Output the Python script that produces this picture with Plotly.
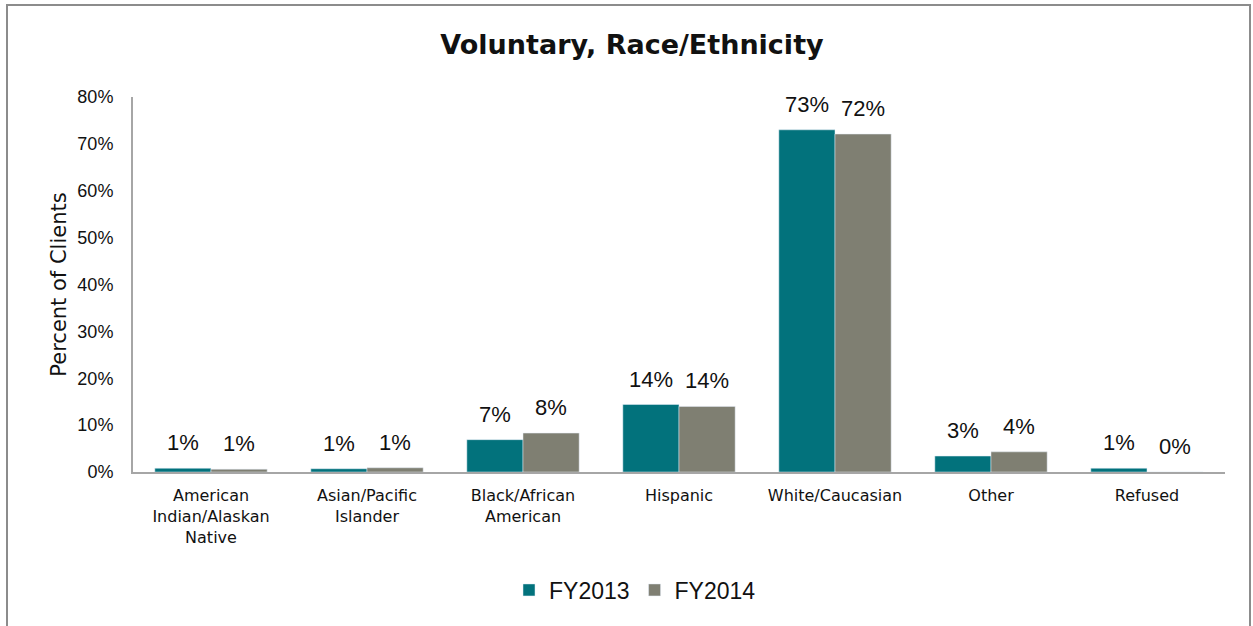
import plotly.graph_objects as go

categories = ["American<br>Indian/Alaskan<br>Native", "Asian/Pacific<br>Islander",
              "Black/African<br>American", "Hispanic", "White/Caucasian", "Other", "Refused"]
fy2013 = [0.008, 0.007, 0.069, 0.144, 0.730, 0.034, 0.008]
fy2014 = [0.006, 0.009, 0.083, 0.140, 0.721, 0.043, 0.000]
y_ticks = [0, 0.1, 0.2, 0.3, 0.4, 0.5, 0.6, 0.7, 0.8]

teal = "#02727C"
grey = "#7F7F72"
font = "DejaVu Sans"
label_font = "Liberation Sans"

W, H = 1253, 626
ml, mr, mt, mb = 133, 28, 97, 154
pw, ph = W - ml - mr, H - mt - mb

fig = go.Figure()
fig.add_bar(name="FY2013", x=categories, y=fy2013, marker_color=teal)
fig.add_bar(name="FY2014", x=categories, y=fy2014, marker_color=grey)

bargap = 0.28
half = (1 - bargap) / 4
for series, off in ((fy2013, -half), (fy2014, half)):
    for i, v in enumerate(series):
        fig.add_annotation(x=i + off, y=v, xref="x", yref="y", text=f"{v:.0%}",
                           showarrow=False, yanchor="bottom", yshift=11,
                           font=dict(family=label_font, size=22, color="#111"))

def px_x(p):
    return (p - ml) / pw

def px_y(p):
    return (H - mb - p) / ph

fig.add_shape(type="rect", xref="paper", yref="paper",
              x0=px_x(7), x1=px_x(1250), y0=px_y(640), y1=px_y(5),
              line=dict(color="#8C8C8C", width=2), fillcolor="rgba(0,0,0,0)", layer="below")

fig.update_layout(
    width=W, height=H,
    margin=dict(l=ml, r=mr, t=mt, b=mb),
    paper_bgcolor="white", plot_bgcolor="white",
    barmode="group", bargap=bargap, bargroupgap=0,
    title=dict(text="<b>Voluntary, Race/Ethnicity</b>", xref="paper", x=px_x(632), xanchor="center",
               y=1 - 45 / H, yanchor="middle",
               font=dict(family=font, size=27, color="#111")),
    font=dict(family=font, color="#111"),
    showlegend=True,
    legend=dict(orientation="h", x=px_x(635), xanchor="center", y=px_y(590), yanchor="middle",
                font=dict(family=label_font, size=23, color="#111"), itemwidth=30),
    xaxis=dict(showline=True, linecolor="#A6A6A6", linewidth=2, ticks="",
               ticklabelstandoff=8,
               tickfont=dict(family=font, size=16, color="#111"), showgrid=False),
    yaxis=dict(range=[0, 0.8], tickvals=y_ticks, tickformat=".0%", showgrid=False,
               showline=True, linecolor="#A6A6A6", linewidth=2, ticks="", zeroline=False,
               ticklabelstandoff=14,
               tickfont=dict(family=label_font, size=18, color="#111"),
               title=dict(text="Percent of Clients", font=dict(family=font, size=21, color="#111"),
                          standoff=5)),
)

fig.write_html("out.html")
